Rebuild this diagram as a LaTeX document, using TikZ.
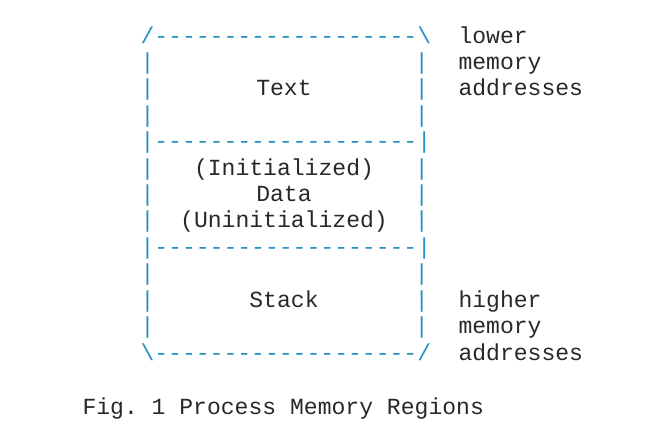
\documentclass[tikz,border=0pt]{standalone}
\usepackage{fontspec}
\setmonofont{Liberation Mono}
\definecolor{artblue}{RGB}{40,145,195}
\definecolor{txtgray}{RGB}{40,40,40}
\tikzset{every picture/.style={line width=0.75pt}}
\tikzset{
  mono/.style={inner sep=0pt,text height=12pt,text depth=4pt,font=\ttfamily\fontsize{17.3}{20}\selectfont},
  art/.style={mono,color=artblue,anchor=west},
  lbl/.style={mono,color=txtgray}
}

\begin{document}
\begin{tikzpicture}[x=0.75pt,y=0.75pt,yscale=-1,xscale=1]
\useasboundingbox (0,0) rectangle (646,441);

% outline rows
\node [art] (top) at (140,38) {/-------------------\textbackslash};
\node [art] (sep1) at (140,143) {|-------------------|};
\node [art] (sep2) at (140,249) {|-------------------|};
\node [art] (bot) at (140,355) {\textbackslash-------------------/};
\foreach \yy [count=\i] in {64,90,117,170,196,222,275,302,328} {
  \node [art] (l\i) at (140,\yy) {|};
  \node [art] (r\i) at (414.3,\yy) {|};
}

% region names
\node [lbl] (text) at (284,90) {Text};
\node [lbl] (init) at (284,170) {(Initialized)};
\node [lbl] (data) at (284,196) {Data};
\node [lbl] (uninit) at (284,222) {(Uninitialized)};
\node [lbl] (stack) at (284,302) {Stack};

% address notes
\node [lbl,anchor=west] (lo1) at (458,38) {lower};
\node [lbl,anchor=west] (lo2) at (458,64) {memory};
\node [lbl,anchor=west] (lo3) at (458,90) {addresses};
\node [lbl,anchor=west] (hi1) at (458,302) {higher};
\node [lbl,anchor=west] (hi2) at (458,328) {memory};
\node [lbl,anchor=west] (hi3) at (458,355) {addresses};

% caption
\node [lbl,anchor=west] (cap) at (82,409) {Fig. 1 Process Memory Regions};

\end{tikzpicture}
\end{document}
